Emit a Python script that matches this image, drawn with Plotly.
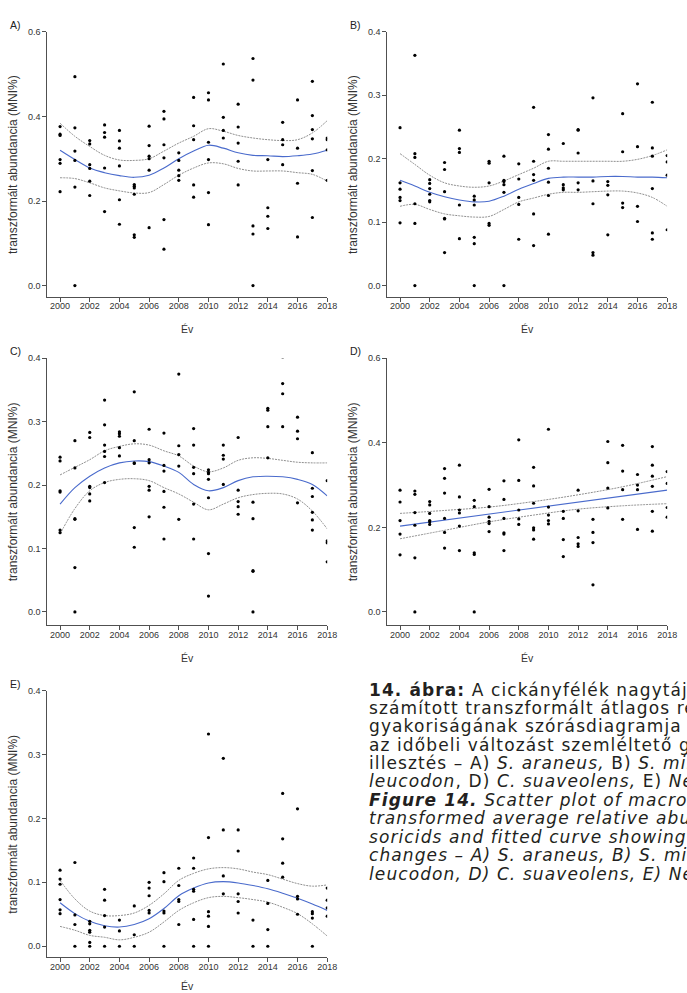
import plotly.graph_objects as go

W, H = 687, 993
years = list(range(2000, 2019))

# ---------------- data ----------------
A_pts = [
    [0.376, 0.358, 0.355, 0.298, 0.289, 0.222],
    [0.494, 0.373, 0.318, 0.296, 0.233, 0.0],
    [0.343, 0.335, 0.286, 0.277, 0.247, 0.213],
    [0.380, 0.362, 0.351, 0.278, 0.175],
    [0.367, 0.342, 0.325, 0.283, 0.203, 0.145],
    [0.239, 0.235, 0.231, 0.216, 0.120, 0.114],
    [0.377, 0.331, 0.306, 0.300, 0.273, 0.137],
    [0.412, 0.394, 0.333, 0.302, 0.156, 0.086],
    [0.314, 0.296, 0.273, 0.260, 0.249],
    [0.445, 0.378, 0.345, 0.238, 0.209],
    [0.456, 0.439, 0.339, 0.298, 0.220, 0.144],
    [0.524, 0.398, 0.367, 0.349],
    [0.429, 0.375, 0.337, 0.294, 0.238],
    [0.537, 0.486, 0.141, 0.122, 0.0],
    [0.298, 0.184, 0.164, 0.135],
    [0.386, 0.345, 0.333, 0.286],
    [0.439, 0.325, 0.242, 0.115],
    [0.483, 0.402, 0.369, 0.347, 0.272, 0.161],
    [0.349, 0.345, 0.321, 0.249],
]
A_fit = [0.320, 0.298, 0.278, 0.267, 0.260, 0.256, 0.261, 0.278, 0.300, 0.318,
         0.332, 0.325, 0.314, 0.308, 0.307, 0.305, 0.307, 0.311, 0.320]
A_up = [0.384, 0.353, 0.329, 0.308, 0.297, 0.296, 0.300, 0.318, 0.337, 0.353,
        0.371, 0.365, 0.355, 0.349, 0.345, 0.343, 0.345, 0.361, 0.390]
A_lo = [0.255, 0.253, 0.243, 0.231, 0.224, 0.219, 0.220, 0.239, 0.261, 0.278,
        0.290, 0.288, 0.277, 0.271, 0.271, 0.271, 0.267, 0.263, 0.247]

B_pts = [
    [0.249, 0.162, 0.152, 0.139, 0.134, 0.099],
    [0.363, 0.208, 0.202, 0.129, 0.098, 0.0],
    [0.167, 0.161, 0.153, 0.144, 0.134, 0.132],
    [0.194, 0.183, 0.148, 0.106, 0.105, 0.052],
    [0.245, 0.216, 0.210, 0.127, 0.074],
    [0.141, 0.135, 0.127, 0.076, 0.066, 0.0],
    [0.196, 0.193, 0.162, 0.098, 0.095],
    [0.204, 0.166, 0.164, 0.159, 0.147, 0.0],
    [0.192, 0.168, 0.139, 0.128, 0.073],
    [0.281, 0.196, 0.175, 0.166, 0.113, 0.063],
    [0.238, 0.215, 0.185, 0.163, 0.142, 0.081],
    [0.224, 0.159, 0.154, 0.151],
    [0.246, 0.245, 0.209, 0.162, 0.151],
    [0.296, 0.165, 0.129, 0.052, 0.048],
    [0.164, 0.158, 0.143, 0.080],
    [0.271, 0.211, 0.130, 0.123],
    [0.318, 0.219, 0.125, 0.101],
    [0.289, 0.217, 0.204, 0.153, 0.083, 0.073],
    [0.205, 0.195, 0.174, 0.088],
]
B_fit = [0.166, 0.157, 0.147, 0.140, 0.135, 0.132, 0.133, 0.141, 0.152, 0.161,
         0.169, 0.171, 0.171, 0.171, 0.172, 0.172, 0.171, 0.171, 0.170]
B_up = [0.208, 0.191, 0.174, 0.162, 0.157, 0.155, 0.157, 0.165, 0.175, 0.185,
        0.196, 0.196, 0.196, 0.196, 0.196, 0.196, 0.199, 0.205, 0.214]
B_lo = [0.125, 0.128, 0.120, 0.113, 0.110, 0.108, 0.109, 0.120, 0.132, 0.138,
        0.144, 0.147, 0.147, 0.148, 0.149, 0.149, 0.146, 0.139, 0.125]

C_pts = [
    [0.244, 0.238, 0.191, 0.189, 0.129, 0.125],
    [0.270, 0.227, 0.147, 0.146, 0.070, 0.0],
    [0.283, 0.275, 0.198, 0.196, 0.186, 0.175],
    [0.334, 0.295, 0.263, 0.253, 0.245, 0.204],
    [0.284, 0.281, 0.277, 0.259, 0.246],
    [0.347, 0.270, 0.235, 0.234, 0.133, 0.102],
    [0.288, 0.240, 0.235, 0.198, 0.192, 0.150],
    [0.282, 0.231, 0.222, 0.190, 0.165, 0.115],
    [0.375, 0.262, 0.248, 0.230, 0.146],
    [0.289, 0.263, 0.228, 0.218, 0.170, 0.115],
    [0.224, 0.220, 0.218, 0.209, 0.180, 0.092, 0.025],
    [0.263, 0.247, 0.241, 0.201],
    [0.275, 0.192, 0.174, 0.166, 0.154],
    [0.173, 0.147, 0.065, 0.064, 0.0],
    [0.321, 0.318, 0.292, 0.243],
    [0.402, 0.360, 0.344, 0.292],
    [0.307, 0.285, 0.273, 0.172],
    [0.251, 0.195, 0.182, 0.157, 0.145, 0.129],
    [0.207, 0.112, 0.109, 0.079],
]
C_fit = [0.170, 0.196, 0.214, 0.227, 0.235, 0.238, 0.237, 0.230, 0.220, 0.201,
         0.191, 0.196, 0.207, 0.213, 0.214, 0.213, 0.209, 0.201, 0.183]
C_up = [0.216, 0.228, 0.240, 0.254, 0.261, 0.265, 0.263, 0.254, 0.246, 0.230,
        0.221, 0.227, 0.239, 0.243, 0.242, 0.239, 0.236, 0.235, 0.235]
C_lo = [0.123, 0.163, 0.191, 0.204, 0.209, 0.210, 0.207, 0.196, 0.186, 0.173,
        0.161, 0.170, 0.180, 0.185, 0.187, 0.186, 0.178, 0.159, 0.131]

D_pts = [
    [0.288, 0.260, 0.216, 0.184, 0.135],
    [0.286, 0.278, 0.235, 0.205, 0.128, 0.0],
    [0.261, 0.253, 0.233, 0.216, 0.213, 0.207],
    [0.339, 0.316, 0.281, 0.221, 0.188, 0.151],
    [0.347, 0.272, 0.241, 0.234, 0.203, 0.145],
    [0.264, 0.249, 0.140, 0.136, 0.0],
    [0.290, 0.249, 0.224, 0.214, 0.209, 0.190],
    [0.310, 0.266, 0.221, 0.187, 0.184, 0.145],
    [0.407, 0.311, 0.241, 0.220, 0.207],
    [0.342, 0.298, 0.257, 0.199, 0.194, 0.172],
    [0.432, 0.248, 0.229, 0.216, 0.208],
    [0.238, 0.221, 0.171, 0.131],
    [0.288, 0.239, 0.176, 0.161, 0.155],
    [0.219, 0.188, 0.164, 0.064],
    [0.403, 0.353, 0.293, 0.246],
    [0.394, 0.333, 0.289, 0.219],
    [0.325, 0.300, 0.289, 0.195],
    [0.391, 0.347, 0.321, 0.297, 0.238, 0.191],
    [0.332, 0.304, 0.247, 0.224],
]
D_fit_years = [2000, 2018]
D_fit = [0.203, 0.288]
D_band_years = [2000, 2003, 2006, 2009, 2012, 2015, 2018]
D_up = [0.233, 0.240, 0.248, 0.261, 0.277, 0.296, 0.320]
D_lo = [0.173, 0.193, 0.213, 0.229, 0.243, 0.251, 0.256]

E_pts = [
    [0.119, 0.105, 0.097, 0.073, 0.057, 0.051],
    [0.131, 0.049, 0.034, 0.0],
    [0.039, 0.035, 0.025, 0.022, 0.006, 0.0],
    [0.089, 0.072, 0.048, 0.030, 0.0],
    [0.041, 0.024, 0.0],
    [0.063, 0.018, 0.0],
    [0.100, 0.091, 0.079, 0.056, 0.052],
    [0.115, 0.101, 0.055, 0.052, 0.0],
    [0.122, 0.095, 0.073, 0.070, 0.034],
    [0.138, 0.122, 0.089, 0.086, 0.042, 0.0],
    [0.332, 0.170, 0.054, 0.047, 0.031, 0.0],
    [0.294, 0.182, 0.110, 0.082],
    [0.182, 0.149, 0.082, 0.070, 0.052],
    [0.041, 0.0],
    [0.103, 0.067, 0.026, 0.0],
    [0.239, 0.168, 0.130, 0.108],
    [0.215, 0.078, 0.074, 0.050],
    [0.054, 0.051, 0.044, 0.0],
    [0.091, 0.072, 0.060, 0.047],
]
E_fit = [0.068, 0.051, 0.039, 0.032, 0.030, 0.034, 0.043, 0.059, 0.079, 0.091,
         0.099, 0.101, 0.099, 0.095, 0.090, 0.083, 0.075, 0.066, 0.056]
E_up = [0.103, 0.074, 0.055, 0.048, 0.048, 0.052, 0.064, 0.082, 0.103, 0.114,
        0.121, 0.123, 0.121, 0.116, 0.112, 0.105, 0.098, 0.094, 0.096]
E_lo = [0.031, 0.025, 0.017, 0.014, 0.010, 0.014, 0.022, 0.038, 0.056, 0.068,
        0.076, 0.078, 0.076, 0.073, 0.069, 0.061, 0.051, 0.035, 0.016]

x_ticks = [2000, 2002, 2004, 2006, 2008, 2010, 2012, 2014, 2016, 2018]
y_ticks_06 = [0.0, 0.2, 0.4, 0.6]
y_ticks_04 = [0.0, 0.1, 0.2, 0.3, 0.4]

y_title = "transzformált abundancia (MNI%)"
x_title = "Év"

caption_lines = [
    "<b>14. ábra:</b> A cickányfélék nagytájanként",
    "számított transzformált átlagos relatív",
    "gyakoriságának szórásdiagramja és",
    "az időbeli változást szemléltető görbe",
    "illesztés – A) <i>S. araneus,</i> B) <i>S. minutus</i>, C) <i>C.</i>",
    "<i>leucodon</i>, D) <i>C. suaveolens,</i> E) <i>Neomys</i> spp.",
    "<b><i>Figure 14.</i></b><i> Scatter plot of macro-regionally</i>",
    "<i>transformed average relative abundance of</i>",
    "<i>soricids and fitted curve showing temporal</i>",
    "<i>changes – A) S. araneus, B) S. minutus, C) C.</i>",
    "<i>leucodon, D) C. suaveolens, E) Neomys spp.</i>",
]

# ---------------- layout helpers ----------------
def fx(px):
    return px / W

def fy(py):
    return 1 - py / H

AX_FONT = "Liberation Sans, Arial, sans-serif"
AX_COL = "#505050"
TXT_COL = "#333333"

# panel: (label, pts, fit_x, fit, band_x, up, lo, left px, top px, zero px, bottom px, ymax, yticks)
panels = [
    ("A)", A_pts, years, A_fit, years, A_up, A_lo, 48, 27, 282, 293, 0.6, y_ticks_06),
    ("B)", B_pts, years, B_fit, years, B_up, B_lo, 393, 27, 282, 293, 0.4, y_ticks_04),
    ("C)", C_pts, years, C_fit, years, C_up, C_lo, 48, 355, 610, 623, 0.4, y_ticks_04),
    ("D)", D_pts, D_fit_years, D_fit, D_band_years, D_up, D_lo, 393, 355, 610, 623, 0.6, y_ticks_06),
    ("E)", E_pts, years, E_fit, years, E_up, E_lo, 48, 689, 946, 957, 0.4, y_ticks_04),
]
xtitle_offset = [33, 33, 33, 33, 29]

PX_PER_YEAR = 15.06
X0 = 1999.14
X1 = 2018.0

fig = go.Figure()
annotations = []
layout_axes = {}

for i, (lab, pts, fx_years, fit, bx, up, lo, left, top, zero, bottom, ymax, yt) in enumerate(panels):
    n = "" if i == 0 else str(i + 1)
    xa, ya = "x" + n, "y" + n
    right = left + (X1 - X0) * PX_PER_YEAR
    ymin = -(bottom - zero) / (zero - top) * ymax

    layout_axes["xaxis" + n] = dict(
        domain=[fx(left), fx(right)], anchor=ya, range=[X0, X1],
        tickvals=x_ticks, ticktext=[str(v) for v in x_ticks],
        showline=True, linecolor=AX_COL, linewidth=1,
        ticks="outside", ticklen=4, tickcolor=AX_COL, tickwidth=1,
        ticklabelstandoff=-3,
        showgrid=False, zeroline=False,
        tickfont=dict(family=AX_FONT, size=9, color=TXT_COL),
    )
    layout_axes["yaxis" + n] = dict(
        domain=[fy(bottom), fy(top)], anchor=xa, range=[ymin, ymax],
        tickvals=yt, ticktext=["%.1f" % v for v in yt],
        showline=True, linecolor=AX_COL, linewidth=1,
        ticks="outside", ticklen=4, tickcolor=AX_COL, tickwidth=1,
        showgrid=False, zeroline=False,
        tickfont=dict(family=AX_FONT, size=9, color=TXT_COL),
    )

    xs, ys = [], []
    for yr, vals in zip(years, pts):
        for v in vals:
            xs.append(yr)
            ys.append(v)

    for band in (up, lo):
        fig.add_trace(go.Scatter(
            x=bx, y=band, xaxis=xa, yaxis=ya, mode="lines",
            line=dict(color="#8f8f8f", width=1, dash="2px,1px", shape="spline", smoothing=1.0),
            showlegend=False, hoverinfo="skip"))
    fig.add_trace(go.Scatter(
        x=fx_years, y=fit, xaxis=xa, yaxis=ya, mode="lines",
        line=dict(color="#4a6bcc", width=1.1, shape="spline", smoothing=1.0),
        showlegend=False, hoverinfo="skip"))
    fig.add_trace(go.Scatter(
        x=xs, y=ys, xaxis=xa, yaxis=ya, mode="markers",
        marker=dict(color="black", size=3.2, line=dict(width=0)),
        showlegend=False))

    cx = (left + right) / 2
    cy = (top + bottom) / 2
    annotations.append(dict(
        text=y_title, x=fx(left - 35), y=fy(cy), xref="paper", yref="paper",
        textangle=-90, showarrow=False, xanchor="center", yanchor="middle",
        font=dict(family=AX_FONT, size=12, color=TXT_COL)))
    annotations.append(dict(
        text=x_title, x=fx(cx), y=fy(bottom + xtitle_offset[i]), xref="paper", yref="paper",
        showarrow=False, xanchor="center", yanchor="middle",
        font=dict(family=AX_FONT, size=10.5, color=TXT_COL)))
    annotations.append(dict(
        text=lab, x=fx(left - 40), y=fy(top - 7), xref="paper", yref="paper",
        showarrow=False, xanchor="left", yanchor="middle",
        font=dict(family=AX_FONT, size=10.5, color="#222222")))

line_y = [688, 706.5, 725, 743.5, 762, 780, 799, 817.5, 836, 854.5, 873]
for txt, ly in zip(caption_lines, line_y):
    annotations.append(dict(
        text='<span style="letter-spacing:1.1px">' + txt + '</span>',
        x=fx(372), y=fy(ly), xref="paper", yref="paper",
        showarrow=False, xanchor="left", yanchor="middle",
        font=dict(family="DejaVu Sans, Verdana, sans-serif", size=17, color="#231f20")))

fig.update_layout(
    width=W, height=H, margin=dict(l=0, r=0, t=0, b=0),
    paper_bgcolor="white", plot_bgcolor="white",
    annotations=annotations, showlegend=False,
    **layout_axes,
)

fig.write_html("out.html")
